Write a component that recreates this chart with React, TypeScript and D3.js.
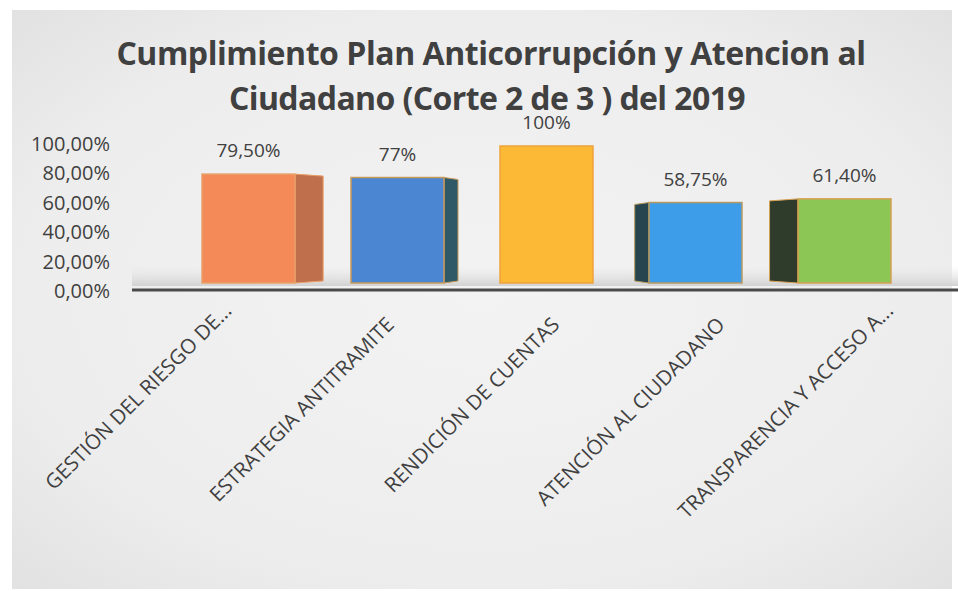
import React from "react";
import * as d3 from "d3";

const categories = [
  "GESTIÓN DEL RIESGO DE...",
  "ESTRATEGIA ANTITRAMITE",
  "RENDICIÓN DE CUENTAS",
  "ATENCIÓN AL CIUDADANO",
  "TRANSPARENCIA Y ACCESO A...",
];
const values = [0.795, 0.77, 1.0, 0.5875, 0.614];
const valueLabels = ["79,50%", "77%", "100%", "58,75%", "61,40%"];
const tickValues = [0, 0.2, 0.4, 0.6, 0.8, 1.0];
const tickLabels = ["0,00%", "20,00%", "40,00%", "60,00%", "80,00%", "100,00%"];
const frontColors = ["#f38a58", "#4a86d2", "#fbb936", "#3d9de9", "#8cc655"];
const sideColors = ["#bf6f4c", "#2f5966", "#d99a2a", "#26454e", "#2f3b2b"];
const strokeColors = ["#e9a06a", "#c89a5a", "#f0a23a", "#b79a60", "#d5a050"];

const W = 958;
const H = 591;
const FONT = "'Open Sans', 'DejaVu Sans', sans-serif";

export default function App() {
  const x = d3
    .scaleBand<string>()
    .domain(categories)
    .range([174, 919])
    .paddingInner(0.376)
    .paddingOuter(0.188);
  const yAxis = d3.scaleLinear().domain([0, 1]).range([291, 144]);
  const yBar = d3.scaleLinear().domain([0, 1]).range([283, 146]);
  const vanishX = 545;
  const bw = x.bandwidth();

  return (
    <svg
      width={W}
      height={H}
      style={{ position: "absolute", left: 0, top: 0, display: "block" }}
    >
      <defs>
        <radialGradient id="bg" cx="50%" cy="50%" r="70%">
          <stop offset="0%" stopColor="#f3f3f3" />
          <stop offset="70%" stopColor="#ededed" />
          <stop offset="100%" stopColor="#e2e2e2" />
        </radialGradient>
        <linearGradient id="floor" x1="0" y1="0" x2="0" y2="1">
          <stop offset="0%" stopColor="#e6e6e6" stopOpacity="0" />
          <stop offset="100%" stopColor="#d2d2d2" />
        </linearGradient>
      </defs>
      <rect x={0} y={0} width={W} height={H} fill="#ffffff" />
      <rect x={12} y={10} width={W - 18} height={H - 12} fill="url(#bg)" />

      {/* title */}
      <text
        x={491}
        y={65}
        textAnchor="middle"
        fontFamily={FONT}
        fontWeight={700}
        fontSize={32}
        fill="#404040"
        letterSpacing={-0.45}
      >
        Cumplimiento Plan Anticorrupción y Atencion al
      </text>
      <text
        x={487}
        y={110}
        textAnchor="middle"
        fontFamily={FONT}
        fontWeight={700}
        fontSize={32}
        fill="#404040"
        letterSpacing={-0.6}
      >
        Ciudadano (Corte 2 de 3 ) del 2019
      </text>

      {/* floor */}
      <rect x={132} y={266} width={W - 132} height={20} fill="url(#floor)" />

      {/* y tick labels */}
      {tickValues.map((t, i) => (
        <text
          key={t}
          x={110}
          y={yAxis(t)}
          dy="0.35em"
          textAnchor="end"
          fontFamily={FONT}
          fontSize={20}
          fill="#404040"
        >
          {tickLabels[i]}
        </text>
      ))}

      {/* bars */}
      {categories.map((c, i) => {
        const x0 = x(c) as number;
        const x1 = x0 + bw;
        const cx = x0 + bw / 2;
        const top = yBar(values[i]);
        const bottom = yBar(0);
        const s = (cx - vanishX) * -0.095;
        let side: string | null = null;
        if (s > 1) {
          side = `${x1},${top} ${x1 + s},${top + 2} ${x1 + s},${bottom - 2} ${x1},${bottom}`;
        } else if (s < -1) {
          side = `${x0},${top} ${x0 + s},${top + 2} ${x0 + s},${bottom - 2} ${x0},${bottom}`;
        }
        return (
          <g key={c}>
            {side && (
              <polygon points={side} fill={sideColors[i]} stroke={strokeColors[i]} strokeWidth={1} />
            )}
            <rect
              x={x0}
              y={top}
              width={bw}
              height={bottom - top}
              fill={frontColors[i]}
              stroke={strokeColors[i]}
              strokeWidth={1.5}
            />
            <text
              x={cx}
              y={top - 17}
              textAnchor="middle"
              fontFamily={FONT}
              fontSize={19}
              fill="#404040"
            >
              {valueLabels[i]}
            </text>
          </g>
        );
      })}

      {/* axis line */}
      <line x1={132} x2={W} y1={290} y2={290} stroke="#4a4a4a" strokeWidth={3} />

      {/* category labels */}
      {categories.map((c) => {
        const cx = (x(c) as number) + bw / 2;
        const trunc = c.endsWith("...");
        const ex = vanishX + (cx - vanishX) * 1.11 + 14 + (trunc ? 3 : 0);
        const ey = 326 - (trunc ? 14 : 0);
        return (
          <text
            key={c}
            transform={`translate(${ex},${ey}) rotate(-45)`}
            textAnchor="end"
            fontFamily={FONT}
            fontSize={20.5}
            fill="#404040"
          >
            {c}
          </text>
        );
      })}
    </svg>
  );
}
